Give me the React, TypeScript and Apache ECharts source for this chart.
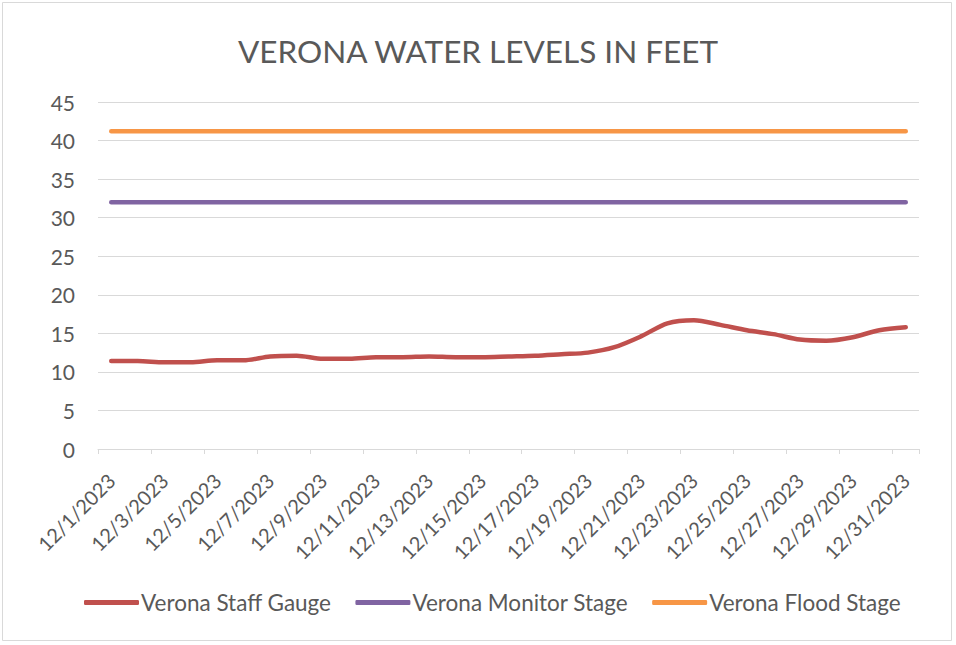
import React, { useEffect, useRef } from "react";
import * as echarts from "echarts";

const categories: string[] = [
  "12/1/2023","12/2/2023","12/3/2023","12/4/2023","12/5/2023","12/6/2023","12/7/2023","12/8/2023",
  "12/9/2023","12/10/2023","12/11/2023","12/12/2023","12/13/2023","12/14/2023","12/15/2023","12/16/2023",
  "12/17/2023","12/18/2023","12/19/2023","12/20/2023","12/21/2023","12/22/2023","12/23/2023","12/24/2023",
  "12/25/2023","12/26/2023","12/27/2023","12/28/2023","12/29/2023","12/30/2023","12/31/2023",
];

const staffGauge: number[] = [
  11.4, 11.4, 11.25, 11.25, 11.5, 11.5, 12.0, 12.1, 11.7, 11.7, 11.9, 11.9, 12.0, 11.9, 11.9, 12.0,
  12.1, 12.3, 12.5, 13.2, 14.6, 16.3, 16.7, 16.1, 15.4, 14.9, 14.2, 14.05, 14.5, 15.4, 15.8,
];
const monitorStageLevel = 32;
const floodStageLevel = 41.2;
const monitorStage: number[] = categories.map(() => monitorStageLevel);
const floodStage: number[] = categories.map(() => floodStageLevel);

const FONT = "Lato, 'Open Sans', sans-serif";
const TEXT = "#595959";

export default function App() {
  const ref = useRef<HTMLDivElement>(null);
  useEffect(() => {
    document.body.style.margin = "0";
    const chart = echarts.init(ref.current!, undefined, { renderer: "svg" });
    chart.setOption({
      animation: false,
      backgroundColor: "#ffffff",
      textStyle: { fontFamily: FONT },
      title: {
        text: "VERONA WATER LEVELS IN FEET",
        left: "center",
        top: 30,
        textStyle: { fontFamily: FONT, fontSize: 31.5, fontWeight: "normal", color: TEXT },
      },
      graphic: [
        {
          type: "rect",
          shape: { x: 2.5, y: 2.5, width: 949, height: 638 },
          style: { fill: "none", stroke: "#d9d9d9", lineWidth: 1 },
          silent: true,
        },
      ],
      legend: {
        bottom: 26,
        left: 79,
        icon: "roundRect",
        itemWidth: 55,
        itemHeight: 5,
        itemGap: 24,
        textStyle: { fontFamily: FONT, fontSize: 22.5, color: TEXT, padding: [0, 0, 0, -3] },
        data: ["Verona Staff Gauge", "Verona Monitor Stage", "Verona Flood Stage"],
      },
      grid: { left: 98, right: 37, top: 102, bottom: 196, containLabel: false },
      xAxis: {
        type: "category",
        data: categories,
        boundaryGap: true,
        axisLine: { lineStyle: { color: "#d9d9d9", width: 1 } },
        axisTick: { show: true, interval: 1, length: 5, lineStyle: { color: "#d9d9d9" } },
        axisLabel: {
          interval: 1,
          rotate: 45,
          fontFamily: FONT,
          fontSize: 20,
          color: TEXT,
          margin: 28,
        },
      },
      yAxis: {
        type: "value",
        min: 0,
        max: 45,
        interval: 5,
        axisLine: { show: false },
        axisTick: { show: false },
        splitLine: { lineStyle: { color: "#d9d9d9", width: 1 } },
        axisLabel: { fontFamily: FONT, fontSize: 21, color: TEXT, margin: 23 },
      },
      series: [
        {
          name: "Verona Staff Gauge",
          type: "line",
          data: staffGauge,
          smooth: 0.3,
          showSymbol: false,
          symbol: "none",
          lineStyle: { color: "#C0504D", width: 4.5, cap: "round" },
          itemStyle: { color: "#C0504D" },
        },
        {
          name: "Verona Monitor Stage",
          type: "line",
          data: monitorStage,
          showSymbol: false,
          symbol: "none",
          lineStyle: { color: "#8064A2", width: 4.5, cap: "round" },
          itemStyle: { color: "#8064A2" },
        },
        {
          name: "Verona Flood Stage",
          type: "line",
          data: floodStage,
          showSymbol: false,
          symbol: "none",
          lineStyle: { color: "#F79646", width: 4.5, cap: "round" },
          itemStyle: { color: "#F79646" },
        },
      ],
    });
    return () => chart.dispose();
  }, []);
  return <div ref={ref} style={{ position: "absolute", left: 0, top: 0, width: 956, height: 645 }} />;
}
